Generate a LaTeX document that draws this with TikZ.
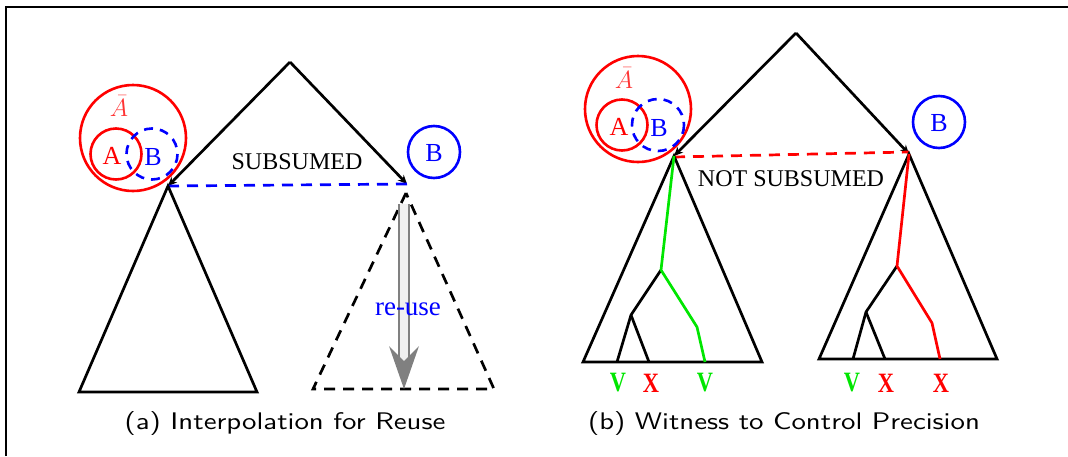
\documentclass[tikz,border=0pt]{standalone}
\usepackage{fontspec}
\setmainfont{Liberation Serif}
\newfontfamily\capfont{lmsans10-regular}[Extension=.otf]
\usetikzlibrary{arrows.meta}
\definecolor{vgreen}{RGB}{0,230,0}
\tikzset{
  ln/.style={line width=2.7pt, line join=miter},
  tipped/.style={-{Stealth[length=9pt,width=8pt,inset=3pt]}},
  rcirc/.style={draw=red, line width=2.6pt},
  bcirc/.style={draw=blue, line width=2.6pt},
  bdcirc/.style={draw=blue, line width=2.6pt, dash pattern=on 9pt off 7pt},
  dsh/.style={line width=2.7pt, dash pattern=on 11pt off 8pt},
  lbl/.style={font=\fontsize{24}{28}\selectfont, inner sep=0pt},
  letter/.style={font=\fontsize{26}{28}\selectfont, inner sep=0pt},
  captext/.style={font=\capfont\fontsize{24}{30}\selectfont, inner sep=0pt},
  leaf/.style={font=\bfseries\fontsize{28}{30}\selectfont, inner sep=0pt},
}
\begin{document}
\begin{tikzpicture}[x=1pt,y=-1pt]
\useasboundingbox (0,0) rectangle (1068,456);
% frame
\draw[line width=2pt] (6,456) -- (6,7) -- (1068,7);

% ================= panel (a)
\coordinate (rootA) at (290,62);
\coordinate (la) at (168,186);
\coordinate (ra) at (407,184);
\coordinate (la1) at (79,392);
\coordinate (la2) at (257,392);
\coordinate (da) at (406,193);
\coordinate (da1) at (313,389);
\coordinate (da2) at (494,389);

\draw[rcirc] (133,138) circle[radius=53];
\draw[rcirc] (116,154) circle[radius=25.5];
\draw[bdcirc] (152,154) circle[radius=25.5];
\node[letter, text=red!80] (abarTA) at (119,106) {$\bar{A}$};
\node[letter, text=red] (atA) at (112,156) {A};
\node[letter, text=blue] (btA) at (153,157) {B};
\draw[bcirc] (434,152) circle[radius=26];
\node[letter, text=blue] (btRA) at (434,153) {B};

\draw[ln, tipped] (rootA) -- (la);
\draw[ln, tipped] (rootA) -- (ra);
\draw[dsh, blue] (la) -- (ra);
\node[lbl] (subA) at (297,162) {SUBSUMED};
\draw[ln] (la) -- (la1) -- (la2) -- cycle;
\draw[dsh] (da) -- (da1) -- (da2) -- cycle;

% re-use arrow
\coordinate (rs) at (404,204);
\coordinate (re) at (404,372);
\draw[gray, line width=2.2pt, double=white!88!gray, double distance=7.5pt] (rs) -- (re);
\fill[gray] (404,389) -- (389,346) -- (404,361) -- (419,346) -- cycle;
\node[lbl, text=blue, font=\fontsize{27}{30}\selectfont] (reuse) at (408,309) {re-use};

\node[captext] (capA) at (285,423) {\scalebox{1.2}[1]{(a) Interpolation for Reuse}};

% ================= panel (b)
\coordinate (rootB) at (796,33);
\coordinate (lb) at (674,156);
\coordinate (rb) at (909,154);
\coordinate (lb1) at (583,362);
\coordinate (lb2) at (762,362);
\coordinate (g1) at (661,270);
\coordinate (g2) at (697,327);
\coordinate (g3) at (705,362);
\coordinate (k1) at (631,315);
\coordinate (k2) at (617,362);
\coordinate (k3) at (649,362);
\coordinate (rb1) at (819,359);
\coordinate (rb2) at (997,359);
\coordinate (r1) at (897,266);
\coordinate (r2) at (932,323);
\coordinate (r3) at (940,359);
\coordinate (m1) at (866,312);
\coordinate (m2) at (853,359);
\coordinate (m3) at (885,359);

\draw[rcirc] (638,109) circle[radius=53];
\draw[rcirc] (622,125) circle[radius=25.5];
\draw[bdcirc] (658,125) circle[radius=26];
\node[letter, text=red!80] (abarTB) at (624,78) {$\bar{A}$};
\node[letter, text=red] (atB) at (619,127) {A};
\node[letter, text=blue] (btB) at (659,128) {B};
\draw[bcirc] (939,122) circle[radius=26];
\node[letter, text=blue] (btRB) at (939,123) {B};

\draw[ln, tipped] (rootB) -- (lb);
\draw[ln, tipped] (rootB) -- (rb);
\draw[dsh, red] ([yshift=-1pt]lb) -- ([yshift=2pt]rb);
\node[lbl] (nsub) at (791,179) {NOT SUBSUMED};

\draw[ln] (lb) -- (lb1) -- (lb2) -- cycle;
\draw[ln] (g1) -- (k1) -- (k2);
\draw[ln] (k1) -- (k3);
\draw[ln, vgreen, line join=round] (lb) -- (g1) -- (g2) -- (g3);

\draw[ln] (rb) -- (rb1) -- (rb2) -- cycle;
\draw[ln] (r1) -- (m1) -- (m2);
\draw[ln] (m1) -- (m3);
\draw[ln, red, line join=round] (rb) -- (r1) -- (r2) -- (r3);

\node[leaf, text=vgreen] (v1) at (618,383) {\scalebox{0.8}[1]{V}};
\node[leaf, text=red] (x1) at (651,383) {\scalebox{0.8}[1]{X}};
\node[leaf, text=vgreen] (v2) at (705,383) {\scalebox{0.8}[1]{V}};
\node[leaf, text=vgreen] (v3) at (852,383) {\scalebox{0.8}[1]{V}};
\node[leaf, text=red] (x2) at (886,383) {\scalebox{0.8}[1]{X}};
\node[leaf, text=red] (x3) at (941,383) {\scalebox{0.8}[1]{X}};

\node[captext] (capB) at (784,423) {\scalebox{1.2}[1]{(b) Witness to Control Precision}};
\end{tikzpicture}
\end{document}
